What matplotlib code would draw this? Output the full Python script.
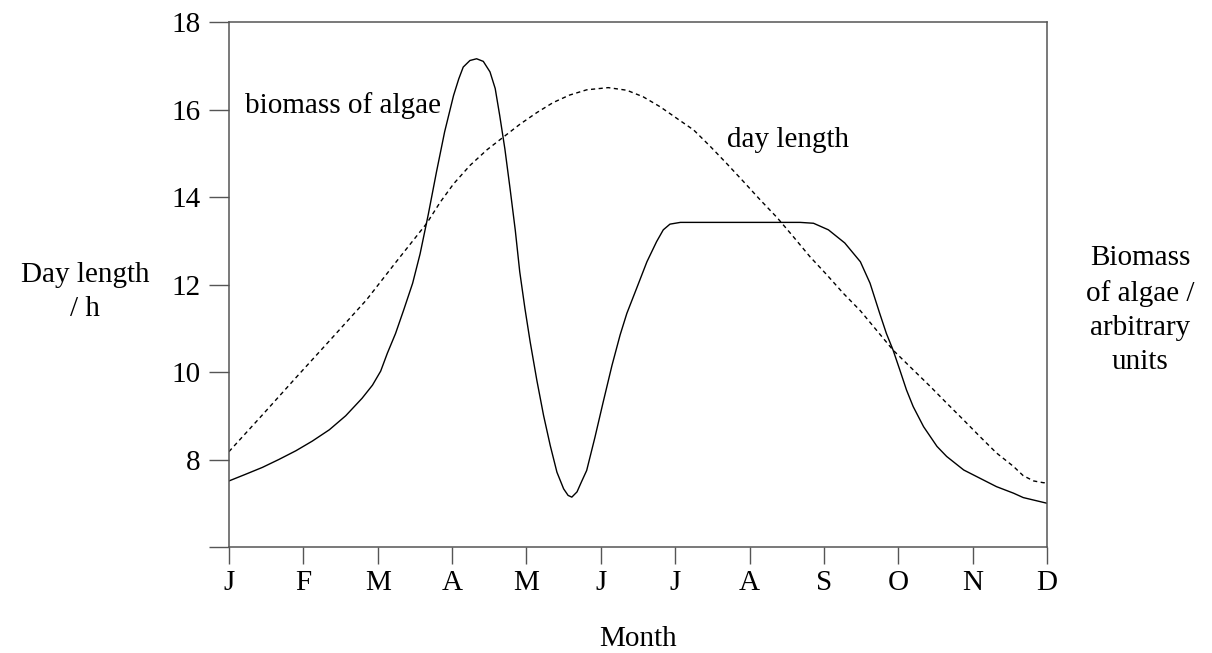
import matplotlib
matplotlib.use("Agg")
import matplotlib.pyplot as plt

# values (x in months, 0 = Jan ... 11 = Dec)
month_labels = ["J", "F", "M", "A", "M", "J", "J", "A", "S", "O", "N", "D"]
y_ticks = [6, 8, 10, 12, 14, 16, 18]
y_labels = ["", "8", "10", "12", "14", "16", "18"]

day_x = [0.0, 0.45, 0.9, 1.35, 1.85, 2.24, 2.66, 2.84, 3.02, 3.24, 3.47, 3.69,
         3.91, 4.14, 4.36, 4.58, 4.81, 5.1, 5.35, 5.57, 5.8, 6.02, 6.25, 6.47,
         6.69, 6.92, 7.14, 7.37, 7.59, 7.81, 8.04, 8.26, 8.49, 8.71, 8.93, 9.2,
         9.43, 9.65, 9.88, 10.1, 10.32, 10.55, 10.68, 10.82, 10.95, 11.0]
day_y = [8.18, 9.02, 9.87, 10.71, 11.65, 12.5, 13.4, 13.88, 14.3, 14.72,
         15.08, 15.37, 15.66, 15.93, 16.16, 16.33, 16.45, 16.5, 16.44, 16.29,
         16.06, 15.8, 15.53, 15.16, 14.77, 14.35, 13.94, 13.53, 13.09, 12.64,
         12.22, 11.8, 11.4, 10.95, 10.5, 10.05, 9.67, 9.29, 8.9, 8.52, 8.15,
         7.84, 7.63, 7.51, 7.47, 7.47]

bio_x = [0.0, 0.22, 0.45, 0.67, 0.9, 1.12, 1.35, 1.57, 1.79, 1.93, 2.04, 2.13,
         2.24, 2.35, 2.47, 2.57, 2.68, 2.79, 2.9, 3.02, 3.09, 3.15, 3.24, 3.33,
         3.42, 3.51, 3.58, 3.64, 3.71, 3.78, 3.85, 3.91, 3.98, 4.05, 4.14, 4.23,
         4.32, 4.41, 4.5, 4.56, 4.61, 4.68, 4.74, 4.81, 4.92, 5.03, 5.15, 5.26,
         5.35, 5.49, 5.62, 5.75, 5.84, 5.93, 6.07, 7.68, 7.86, 8.06, 8.28, 8.49,
         8.62, 8.75, 8.84, 8.93, 9.02, 9.11, 9.2, 9.34, 9.52, 9.65, 9.88, 10.1,
         10.32, 10.55, 10.68, 11.0]
bio_y = [7.51, 7.66, 7.82, 8.0, 8.2, 8.42, 8.68, 9.0, 9.4, 9.7, 10.02,
         10.43, 10.88, 11.42, 12.03, 12.7, 13.6, 14.57, 15.49, 16.32, 16.7,
         16.97, 17.12, 17.16, 17.1, 16.86, 16.48, 15.87, 15.1, 14.19, 13.24,
         12.29, 11.45, 10.69, 9.81, 9.01, 8.32, 7.71, 7.33, 7.18, 7.14, 7.26,
         7.49, 7.75, 8.5, 9.3, 10.15, 10.85, 11.34, 11.95, 12.52, 12.98, 13.25,
         13.38, 13.42, 13.42, 13.4, 13.25, 12.95, 12.52, 12.03, 11.34, 10.88,
         10.5, 10.05, 9.59, 9.21, 8.75, 8.3, 8.07, 7.76, 7.57, 7.38, 7.23, 7.13,
         7.0]

plt.rcParams["font.family"] = ["Liberation Serif", "DejaVu Serif"]
plt.rcParams["font.size"] = 21

fig = plt.figure(figsize=(12.12, 6.53), dpi=100)
ax = fig.add_axes([0.1889, 0.1623, 0.675, 0.804])

ax.plot(bio_x, bio_y, color="black", lw=1.0)
ax.plot(day_x, day_y, color="black", lw=1.0, linestyle=(0, (3, 2.5)))

ax.set_xlim(0, 11)
ax.set_ylim(6, 18)
ax.set_xticks(range(12))
ax.set_xticklabels(month_labels)
ax.set_yticks(y_ticks)
ax.set_yticklabels(y_labels)

for s in ax.spines.values():
    s.set_color("#555555")
    s.set_linewidth(1.1)
ax.tick_params(axis="y", direction="out", length=14.4, width=1.0, color="#555555", pad=6)
ax.tick_params(axis="x", direction="out", length=12.2, width=1.0, color="#555555", pad=4)

ax.set_xlabel("Month", labelpad=22)
ax.text(0.21, 16.08, "biomass of algae", ha="left", va="center")
ax.text(6.7, 15.3, "day length", ha="left", va="center")

fig.text(85 / 1212, 1 - 292 / 653, "Day length\n/ h", ha="center", va="center",
         linespacing=1.35)
fig.text(1140 / 1212, 1 - 310 / 653, "Biomass\nof algae /\narbitrary\nunits",
         ha="center", va="center", linespacing=1.4)

fig.savefig("out.png", dpi=100)
